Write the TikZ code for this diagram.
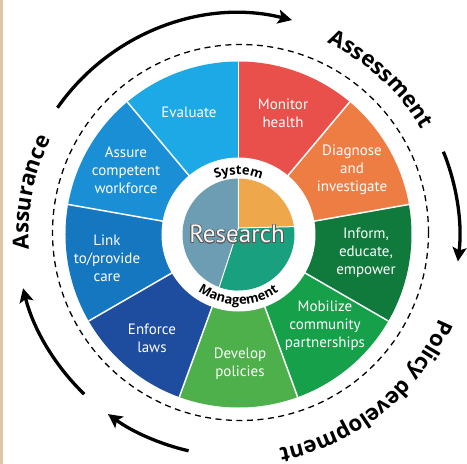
\documentclass[tikz,border=0pt]{standalone}
\usepackage{fontspec}
\setmainfont{PT Sans}
\newfontfamily\labelfamily{Open Sans}
\usepackage{contour}
\usetikzlibrary{arrows.meta,decorations.text}

\definecolor{monitorred}{HTML}{E94F4B}
\definecolor{diagorange}{HTML}{EE7D44}
\definecolor{informgreen}{HTML}{0F7A3C}
\definecolor{mobilgreen}{HTML}{16A04A}
\definecolor{developgreen}{HTML}{4DB04A}
\definecolor{enforceblue}{HTML}{1E4C9E}
\definecolor{linkblue}{HTML}{1577C0}
\definecolor{assureblue}{HTML}{1B8FD6}
\definecolor{evalblue}{HTML}{1DA9E6}
\definecolor{coreorange}{HTML}{EFA74C}
\definecolor{coreteal}{HTML}{19A07F}
\definecolor{coresteel}{HTML}{6C9DB2}
\definecolor{edgebeige}{HTML}{DCC6A8}

\newcommand{\outerfont}{\labelfamily\bfseries\fontsize{22}{26}\selectfont}
\newcommand{\ringfont}{\labelfamily\bfseries\fontsize{13}{15}\selectfont}

\begin{document}
\begin{tikzpicture}[x=1pt,y=1pt,
    wedgetext/.style={text=white, align=center, font=\fontsize{15}{18}\selectfont},
    cycarrow/.style={line width=3.3pt, -{Stealth[length=14pt,width=14pt,inset=3pt]}},
    curvelabel/.style={decorate, decoration={text along path, text align=center, text={#1}}}]
    \useasboundingbox (-238.5,-229.5) rectangle (228.5,234.5);
    \fill[edgebeige] (-238.5,-229.5) rectangle (-235.5,234.5);

% wheel of the nine services
\fill[monitorred] (0,0) -- (90:173) arc[start angle=90, end angle=50, radius=173] -- cycle;
\fill[diagorange] (0,0) -- (50:173) arc[start angle=50, end angle=10, radius=173] -- cycle;
\fill[informgreen] (0,0) -- (10:173) arc[start angle=10, end angle=-30, radius=173] -- cycle;
\fill[mobilgreen] (0,0) -- (-30:173) arc[start angle=-30, end angle=-70, radius=173] -- cycle;
\fill[developgreen] (0,0) -- (-70:173) arc[start angle=-70, end angle=-110, radius=173] -- cycle;
\fill[enforceblue] (0,0) -- (-110:173) arc[start angle=-110, end angle=-150, radius=173] -- cycle;
\fill[linkblue] (0,0) -- (-150:173) arc[start angle=-150, end angle=-190, radius=173] -- cycle;
\fill[assureblue] (0,0) -- (170:173) arc[start angle=170, end angle=130, radius=173] -- cycle;
\fill[evalblue] (0,0) -- (130:173) arc[start angle=130, end angle=90, radius=173] -- cycle;
    \foreach \a in {90,50,10,-30,-70,-110,-150,170,130} \draw[white, line width=1.5pt] (0,0) -- (\a:173);

% white ring and research core
\fill[white] (0,0) circle (77);
\begin{scope}
    \clip (0,0) circle (56);
    \fill[coresteel] (-60,-60) rectangle (0,60);
    \fill[coreorange] (0,6.5) -- (0,60) -- (60,60) -- (60,8) -- cycle;
    \fill[coreteal] (0,6.5) -- (60,8) -- (60,-60) -- (-25,-70) -- cycle;
    \draw[white, line width=1pt] (0,60) -- (0,6.5) -- (60,8);
    \draw[white, line width=1pt] (0,6.5) -- (-25,-70);
\end{scope}
\node[text=gray!8, font=\fontsize{25}{30}\selectfont] (research) at (-1.5,0) {\contourlength{0.7pt}\contour{black!65}{Research}};

\path[curvelabel={|\ringfont|System}] (130:60) arc[start angle=130, end angle=50, radius=60];
\path[curvelabel={|\ringfont|Management}] (-160:70) arc[start angle=-160, end angle=-20, radius=70];

% services
\node[wedgetext] (evaluate) at (-49.5,122.5) {Evaluate};
\node[wedgetext] (monitor) at (44.5,121.5) {Monitor\\health};
\node[wedgetext] (diagnose) at (113.5,64.5) {Diagnose\\and\\investigate};
\node[wedgetext] (inform) at (127.5,-18.5) {Inform,\\educate,\\empower};
\node[wedgetext] (mobilize) at (86.5,-91.5) {Mobilize\\community\\partnerships};
\node[wedgetext] (develop) at (1.5,-129.5) {Develop\\policies};
\node[wedgetext] (enforce) at (-86.5,-103.5) {Enforce\\laws};
\node[wedgetext] (linkcare) at (-131.5,-23.5) {Link\\to/provide\\care};
\node[wedgetext] (assure) at (-112.5,64.5) {Assure\\competent\\workforce};

% outer cycle
\draw[dashed, dash pattern=on 6pt off 4.5pt, line width=1.3pt] (2,2) circle (188);
\draw[cycarrow] (145:221) arc[start angle=145, end angle=76, radius=221];
\draw[cycarrow] (22:221) arc[start angle=22, end angle=-7, radius=221];
\draw[cycarrow] (-103:222) arc[start angle=-103, end angle=-126, radius=222];
\draw[cycarrow] (-134:222) arc[start angle=-134, end angle=-166, radius=222];

\path[curvelabel={|\outerfont|Assessment}] (85:211) arc[start angle=85, end angle=10, radius=211];
\path[curvelabel={|\outerfont|Policy development}] (0:218) arc[start angle=0, end angle=-102, radius=218];
\path[curvelabel={|\outerfont|Assurance}] (210:210) arc[start angle=210, end angle=127, radius=210];

\end{tikzpicture}
\end{document}
